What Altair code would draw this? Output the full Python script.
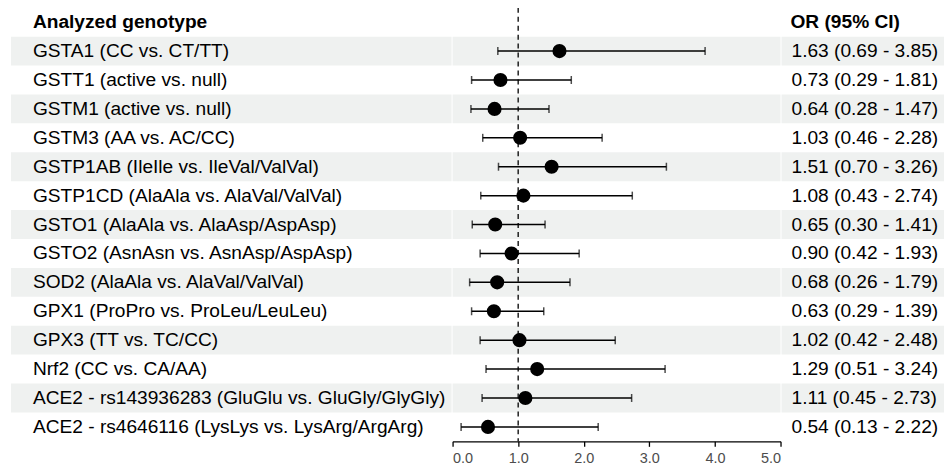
import altair as alt
import pandas as pd

labels = [
    "GSTA1 (CC vs. CT/TT)",
    "GSTT1 (active vs. null)",
    "GSTM1 (active vs. null)",
    "GSTM3 (AA vs. AC/CC)",
    "GSTP1AB (IleIle vs. IleVal/ValVal)",
    "GSTP1CD (AlaAla vs. AlaVal/ValVal)",
    "GSTO1 (AlaAla vs. AlaAsp/AspAsp)",
    "GSTO2 (AsnAsn vs. AsnAsp/AspAsp)",
    "SOD2 (AlaAla vs. AlaVal/ValVal)",
    "GPX1 (ProPro vs. ProLeu/LeuLeu)",
    "GPX3 (TT vs. TC/CC)",
    "Nrf2 (CC vs. CA/AA)",
    "ACE2 - rs143936283 (GluGlu vs. GluGly/GlyGly)",
    "ACE2 - rs4646116 (LysLys vs. LysArg/ArgArg)",
]
odds = [1.63, 0.73, 0.64, 1.03, 1.51, 1.08, 0.65, 0.90, 0.68, 0.63, 1.02, 1.29, 1.11, 0.54]
lower = [0.69, 0.29, 0.28, 0.46, 0.70, 0.43, 0.30, 0.42, 0.26, 0.29, 0.42, 0.51, 0.45, 0.13]
upper = [3.85, 1.81, 1.47, 2.28, 3.26, 2.74, 1.41, 1.93, 1.79, 1.39, 2.48, 3.24, 2.73, 2.22]
x_ticks = [0, 1, 2, 3, 4, 5]
header_left = "Analyzed genotype"
header_right = "OR (95% CI)"

n = len(labels)
df = pd.DataFrame({
    "label": labels,
    "or": odds,
    "lo": lower,
    "hi": upper,
    "row": [i + 1.5 for i in range(n)],
    "txt": [f"{o:.2f} ({l:.2f} - {h:.2f})" for o, l, h in zip(odds, lower, upper)],
})
stripes = pd.DataFrame({"y0": [i + 1 for i in range(0, n, 2)], "y1": [i + 2 for i in range(0, n, 2)]})
header = pd.DataFrame({"row": [0.5], "left": [header_left], "right": [header_right]})

FONT = "Liberation Sans"
FS = 19.2
STRIPE = "#EFF1F0"
H = 435
WL, WM, WR = 442, 329, 163

yscale = alt.Scale(domain=[0, n + 1], reverse=True, nice=False, zero=False)


def ystr(field):
    return alt.Y(field, type="quantitative", scale=yscale, axis=None)


def stripe_layer(w):
    return alt.Chart(stripes).mark_rect(color=STRIPE).encode(
        x=alt.value(0), x2=alt.value(w), y=ystr("y0"), y2="y1"
    )


left = alt.layer(
    stripe_layer(WL),
    alt.Chart(header).mark_text(align="left", baseline="middle", font=FONT, fontSize=FS,
                                fontWeight="bold", color="black").encode(
        x=alt.value(22), y=ystr("row"), text="left:N"),
    alt.Chart(df).mark_text(align="left", baseline="middle", font=FONT, fontSize=FS,
                            color="black", limit=418, ellipsis=" ").encode(
        x=alt.value(22), y=ystr("row"), text="label:N"),
).properties(width=WL, height=H)

xscale = alt.Scale(domain=[0, 5], nice=False, zero=False)
xaxis = alt.Axis(values=x_ticks, format=".1f", title=None, grid=False, domainColor="black",
                 tickColor="black", labelColor="#4D4D4D", labelFontSize=14.5, labelFont=FONT,
                 tickSize=5, labelPadding=5, domainWidth=1.3, tickWidth=1.3)

LW = 1.5
middle = alt.layer(
    stripe_layer(WM),
    alt.Chart(header).mark_rule(color="black", strokeDash=[5, 4], strokeWidth=1.3).encode(
        x=alt.datum(1, scale=xscale, axis=xaxis, type="quantitative"),
        y=alt.datum(0, scale=yscale, axis=None, type="quantitative"),
        y2=alt.datum(n + 1)),
    alt.Chart(df).mark_rule(color="black", strokeWidth=LW).encode(
        x=alt.X("lo:Q", scale=xscale, axis=xaxis), x2="hi:Q", y=ystr("row")),
    alt.Chart(df).mark_tick(orient="vertical", color="black", size=8, thickness=LW).encode(
        x=alt.X("lo:Q", scale=xscale, axis=xaxis), y=ystr("row")),
    alt.Chart(df).mark_tick(orient="vertical", color="black", size=8, thickness=LW).encode(
        x=alt.X("hi:Q", scale=xscale, axis=xaxis), y=ystr("row")),
    alt.Chart(df).mark_circle(color="black", opacity=1, size=200).encode(
        x=alt.X("or:Q", scale=xscale, axis=xaxis), y=ystr("row")),
).properties(width=WM, height=H)

right = alt.layer(
    stripe_layer(WR),
    alt.Chart(header).mark_text(align="left", baseline="middle", font=FONT, fontSize=FS,
                                fontWeight="bold", color="black").encode(
        x=alt.value(9), y=ystr("row"), text="right:N"),
    alt.Chart(df).mark_text(align="left", baseline="middle", font=FONT, fontSize=FS,
                            color="black").encode(
        x=alt.value(10), y=ystr("row"), text="txt:N"),
).properties(width=WR, height=H)

chart = alt.hconcat(left, middle, right, spacing=0).properties(
    padding={"left": 3, "top": -2, "right": 0, "bottom": 0}
).configure(background="white").configure_view(strokeWidth=0, stroke=None)

chart.save("out.html", embed_options={"renderer": "svg", "actions": False})
